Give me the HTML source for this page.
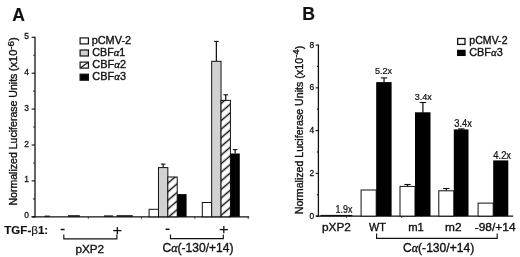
<!DOCTYPE html>
<html><head><meta charset="utf-8"><style>
html,body{margin:0;padding:0;background:#fff;}
body{width:520px;height:257px;overflow:hidden;}
svg{display:block;filter:blur(0.35px);}
</style></head><body>
<svg width="520" height="257" viewBox="0 0 520 257">
<rect width="520" height="257" fill="#fff"/>
<defs>
<pattern id="h" patternUnits="userSpaceOnUse" width="20" height="6.55" patternTransform="translate(0,3.47) rotate(-40.4)">
<rect x="-1" y="-1" width="22" height="9" fill="#fff"/>
<line x1="-1" y1="3.275" x2="21" y2="3.275" stroke="#111" stroke-width="1.45"/>
</pattern>
</defs>
<line x1="35.0" y1="36.699999999999996" x2="35.0" y2="217.4" stroke="#111" stroke-width="1.3"/>
<line x1="31.6" y1="216.8" x2="249.2" y2="216.8" stroke="#111" stroke-width="1.3"/>
<line x1="31.6" y1="216.80" x2="35.0" y2="216.80" stroke="#111" stroke-width="1.1"/>
<line x1="31.6" y1="180.90" x2="35.0" y2="180.90" stroke="#111" stroke-width="1.1"/>
<line x1="31.6" y1="145.00" x2="35.0" y2="145.00" stroke="#111" stroke-width="1.1"/>
<line x1="31.6" y1="109.10" x2="35.0" y2="109.10" stroke="#111" stroke-width="1.1"/>
<line x1="31.6" y1="73.20" x2="35.0" y2="73.20" stroke="#111" stroke-width="1.1"/>
<line x1="31.6" y1="37.30" x2="35.0" y2="37.30" stroke="#111" stroke-width="1.1"/>
<line x1="33.2" y1="198.85" x2="35.0" y2="198.85" stroke="#222" stroke-width="1.1"/>
<line x1="33.2" y1="162.95" x2="35.0" y2="162.95" stroke="#222" stroke-width="1.1"/>
<line x1="33.2" y1="127.05" x2="35.0" y2="127.05" stroke="#222" stroke-width="1.1"/>
<line x1="33.2" y1="91.15" x2="35.0" y2="91.15" stroke="#222" stroke-width="1.1"/>
<line x1="33.2" y1="55.25" x2="35.0" y2="55.25" stroke="#222" stroke-width="1.1"/>
<line x1="88.30" y1="216.8" x2="88.30" y2="218.8" stroke="#333" stroke-width="1"/>
<line x1="141.60" y1="216.8" x2="141.60" y2="218.8" stroke="#333" stroke-width="1"/>
<line x1="194.90" y1="216.8" x2="194.90" y2="218.8" stroke="#333" stroke-width="1"/>
<line x1="248.20" y1="216.8" x2="248.20" y2="218.8" stroke="#333" stroke-width="1"/>
<rect x="149.10" y="209.3" width="9.37" height="7.50" fill="#fff" stroke="#111" stroke-width="1"/>
<line x1="163.16" y1="164.1" x2="163.16" y2="167.6" stroke="#111" stroke-width="1.25"/>
<line x1="160.85" y1="164.1" x2="165.46" y2="164.1" stroke="#111" stroke-width="1.1"/>
<rect x="158.47" y="167.6" width="9.37" height="49.20" fill="#d2d2d2" stroke="#111" stroke-width="1"/>
<rect x="167.84" y="177.0" width="9.37" height="39.80" fill="url(#h)" stroke="#111" stroke-width="1"/>
<rect x="177.21" y="194.10" width="9.37" height="22.70" fill="#000"/>
<rect x="202.30" y="202.5" width="9.37" height="14.30" fill="#fff" stroke="#111" stroke-width="1"/>
<line x1="216.36" y1="41.4" x2="216.36" y2="61.3" stroke="#111" stroke-width="1.25"/>
<line x1="214.06" y1="41.4" x2="218.66" y2="41.4" stroke="#111" stroke-width="1.1"/>
<rect x="211.67" y="61.3" width="9.37" height="155.50" fill="#d2d2d2" stroke="#111" stroke-width="1"/>
<line x1="225.73" y1="94.8" x2="225.73" y2="100.4" stroke="#111" stroke-width="1.25"/>
<line x1="223.43" y1="94.8" x2="228.03" y2="94.8" stroke="#111" stroke-width="1.1"/>
<rect x="221.04" y="100.4" width="9.37" height="116.40" fill="url(#h)" stroke="#111" stroke-width="1"/>
<line x1="235.10" y1="149.6" x2="235.10" y2="153.6" stroke="#111" stroke-width="1.25"/>
<line x1="232.80" y1="149.6" x2="237.40" y2="149.6" stroke="#111" stroke-width="1.1"/>
<rect x="230.41" y="153.50" width="9.37" height="63.30" fill="#000"/>
<rect x="44.6" y="215.60" width="5.20" height="1.20" fill="#111"/>
<rect x="68.0" y="215.20" width="11.80" height="1.60" fill="#111"/>
<rect x="104.0" y="215.40" width="9.20" height="1.40" fill="#111"/>
<rect x="116.6" y="215.20" width="16.20" height="1.60" fill="#111"/>
<rect x="80.1" y="37.90" width="8.3" height="6.0" fill="#fff" stroke="#111" stroke-width="1.2"/>
<rect x="80.1" y="50.00" width="8.3" height="6.0" fill="#d2d2d2" stroke="#111" stroke-width="1.2"/>
<rect x="80.1" y="62.10" width="8.3" height="6.0" fill="#fff" stroke="#111" stroke-width="1.2"/>
<line x1="80.6" y1="67.70" x2="87.9" y2="62.50" stroke="#111" stroke-width="1.2"/>
<rect x="80.1" y="74.20" width="8.3" height="6.0" fill="#000" stroke="#111" stroke-width="1.2"/>
<line x1="60.6" y1="229.5" x2="64.6" y2="229.5" stroke="#111" stroke-width="1.5"/>
<line x1="113.20" y1="230.6" x2="121.40" y2="230.6" stroke="#111" stroke-width="1.3"/>
<line x1="117.3" y1="227.00" x2="117.3" y2="234.20" stroke="#111" stroke-width="1.3"/>
<line x1="165.6" y1="229.3" x2="169.6" y2="229.3" stroke="#111" stroke-width="1.5"/>
<line x1="219.70" y1="229.6" x2="227.90" y2="229.6" stroke="#111" stroke-width="1.3"/>
<line x1="223.8" y1="226.00" x2="223.8" y2="233.20" stroke="#111" stroke-width="1.3"/>
<path d="M63.8,234.4 V238.8 H116.9 V234.4" fill="none" stroke="#111" stroke-width="1.15"/>
<path d="M170.5,234.4 V238.6 H223.3 V234.4" fill="none" stroke="#111" stroke-width="1.15"/>
<line x1="318.4" y1="44.5" x2="318.4" y2="216.7" stroke="#111" stroke-width="1.3"/>
<line x1="316.0" y1="216.1" x2="513.2" y2="216.1" stroke="#111" stroke-width="1.3"/>
<line x1="315.6" y1="216.10" x2="318.4" y2="216.10" stroke="#111" stroke-width="1.1"/>
<line x1="316.79999999999995" y1="194.72" x2="318.4" y2="194.72" stroke="#222" stroke-width="1.1"/>
<line x1="315.6" y1="173.35" x2="318.4" y2="173.35" stroke="#111" stroke-width="1.1"/>
<line x1="316.79999999999995" y1="151.97" x2="318.4" y2="151.97" stroke="#222" stroke-width="1.1"/>
<line x1="315.6" y1="130.60" x2="318.4" y2="130.60" stroke="#111" stroke-width="1.1"/>
<line x1="316.79999999999995" y1="109.22" x2="318.4" y2="109.22" stroke="#222" stroke-width="1.1"/>
<line x1="315.6" y1="87.85" x2="318.4" y2="87.85" stroke="#111" stroke-width="1.1"/>
<line x1="316.79999999999995" y1="66.47" x2="318.4" y2="66.47" stroke="#222" stroke-width="1.1"/>
<line x1="315.6" y1="45.10" x2="318.4" y2="45.10" stroke="#111" stroke-width="1.1"/>
<line x1="346.4" y1="216.1" x2="346.4" y2="217.9" stroke="#333" stroke-width="1"/>
<line x1="401.7" y1="216.1" x2="401.7" y2="217.9" stroke="#333" stroke-width="1"/>
<line x1="384.05" y1="77.9" x2="384.05" y2="82.6" stroke="#111" stroke-width="1.25"/>
<line x1="380.85" y1="77.9" x2="387.25" y2="77.9" stroke="#111" stroke-width="1.1"/>
<rect x="361.1" y="190.0" width="15.10" height="26.10" fill="#fff" stroke="#111" stroke-width="1"/>
<rect x="376.2" y="82.10" width="15.40" height="134.00" fill="#000"/>
<line x1="407.50" y1="184.5" x2="407.50" y2="186.4" stroke="#111" stroke-width="1.25"/>
<line x1="404.30" y1="184.5" x2="410.70" y2="184.5" stroke="#111" stroke-width="1.1"/>
<line x1="422.90" y1="102.5" x2="422.90" y2="112.8" stroke="#111" stroke-width="1.25"/>
<line x1="419.70" y1="102.5" x2="426.10" y2="102.5" stroke="#111" stroke-width="1.1"/>
<rect x="400.0" y="186.4" width="15.00" height="29.70" fill="#fff" stroke="#111" stroke-width="1"/>
<rect x="415.0" y="112.30" width="15.50" height="103.80" fill="#000"/>
<line x1="446.30" y1="188.5" x2="446.30" y2="190.8" stroke="#111" stroke-width="1.25"/>
<line x1="443.10" y1="188.5" x2="449.50" y2="188.5" stroke="#111" stroke-width="1.1"/>
<line x1="461.30" y1="128.9" x2="461.30" y2="129.9" stroke="#111" stroke-width="1.25"/>
<line x1="458.10" y1="128.9" x2="464.50" y2="128.9" stroke="#111" stroke-width="1.1"/>
<rect x="438.8" y="190.8" width="15.00" height="25.30" fill="#fff" stroke="#111" stroke-width="1"/>
<rect x="453.8" y="129.40" width="14.70" height="86.70" fill="#000"/>
<rect x="478.1" y="203.1" width="15.10" height="13.00" fill="#fff" stroke="#111" stroke-width="1"/>
<rect x="493.2" y="160.40" width="15.10" height="55.70" fill="#000"/>
<rect x="320.4" y="214.9" width="32.0" height="1.4" fill="#111"/>
<rect x="457.7" y="38.5" width="7.3" height="5.9" fill="#fff" stroke="#111" stroke-width="1.3"/>
<rect x="457.7" y="50.4" width="7.3" height="5.0" fill="#000" stroke="#000" stroke-width="1.3"/>
<path d="M376.6,233.4 V238.3 H497.2 V233.4" fill="none" stroke="#111" stroke-width="1.15"/>
<text x="28.9" y="218.30" font-size="8.4" text-anchor="end" font-family="Liberation Sans" fill="#111" stroke="#111" stroke-width="0.28">0</text>
<text x="28.9" y="182.40" font-size="8.4" text-anchor="end" font-family="Liberation Sans" fill="#111" stroke="#111" stroke-width="0.28">1</text>
<text x="28.9" y="146.50" font-size="8.4" text-anchor="end" font-family="Liberation Sans" fill="#111" stroke="#111" stroke-width="0.28">2</text>
<text x="28.9" y="110.60" font-size="8.4" text-anchor="end" font-family="Liberation Sans" fill="#111" stroke="#111" stroke-width="0.28">3</text>
<text x="28.9" y="74.70" font-size="8.4" text-anchor="end" font-family="Liberation Sans" fill="#111" stroke="#111" stroke-width="0.28">4</text>
<text x="28.9" y="38.80" font-size="8.4" text-anchor="end" font-family="Liberation Sans" fill="#111" stroke="#111" stroke-width="0.28">5</text>
<text x="314.1" y="218.70" font-size="8.4" text-anchor="end" font-family="Liberation Sans" fill="#111" stroke="#111" stroke-width="0.28">0</text>
<text x="314.1" y="175.95" font-size="8.4" text-anchor="end" font-family="Liberation Sans" fill="#111" stroke="#111" stroke-width="0.28">2</text>
<text x="314.1" y="133.20" font-size="8.4" text-anchor="end" font-family="Liberation Sans" fill="#111" stroke="#111" stroke-width="0.28">4</text>
<text x="314.1" y="90.45" font-size="8.4" text-anchor="end" font-family="Liberation Sans" fill="#111" stroke="#111" stroke-width="0.28">6</text>
<text x="314.1" y="47.70" font-size="8.4" text-anchor="end" font-family="Liberation Sans" fill="#111" stroke="#111" stroke-width="0.28">8</text>
<text transform="translate(12.37,20.60) scale(0.17576,0.18261)" font-size="100" font-family="Liberation Sans" font-weight="bold" fill="#111" stroke="#111" stroke-width="0.84">A</text>
<text transform="translate(302.16,20.10) scale(0.17705,0.17826)" font-size="100" font-family="Liberation Sans" font-weight="bold" fill="#111" stroke="#111" stroke-width="0.84">B</text>
<text transform="translate(91.63,43.60) scale(0.10946,0.11594)" font-size="100" font-family="Liberation Sans"  fill="#111" stroke="#111" stroke-width="3.19">pCMV-2</text>
<text transform="translate(92.36,55.80) scale(0.10705,0.10870)" font-size="100" font-family="Liberation Sans"  fill="#111" stroke="#111" stroke-width="3.34">CBF<tspan font-family="Liberation Serif" font-style="italic">α</tspan>1</text>
<text transform="translate(92.35,68.00) scale(0.11007,0.10870)" font-size="100" font-family="Liberation Sans"  fill="#111" stroke="#111" stroke-width="3.29">CBF<tspan font-family="Liberation Serif" font-style="italic">α</tspan>2</text>
<text transform="translate(92.35,80.20) scale(0.10936,0.10870)" font-size="100" font-family="Liberation Sans"  fill="#111" stroke="#111" stroke-width="3.30">CBF<tspan font-family="Liberation Serif" font-style="italic">α</tspan>3</text>
<text transform="translate(469.36,43.80) scale(0.10573,0.11014)" font-size="100" font-family="Liberation Sans"  fill="#111" stroke="#111" stroke-width="3.34">pCMV-2</text>
<text transform="translate(469.15,55.50) scale(0.10903,0.11159)" font-size="100" font-family="Liberation Sans"  fill="#111" stroke="#111" stroke-width="3.26">CBF<tspan font-family="Liberation Serif" font-style="italic">α</tspan>3</text>
<text transform="translate(4.28,233.80) scale(0.11572,0.11014)" font-size="100" font-family="Liberation Sans" font-weight="bold" fill="#111" stroke="#111" stroke-width="1.33">TGF-<tspan font-family="Liberation Sans" font-weight="normal">β</tspan>1:</text>
<text transform="translate(75.38,252.50) scale(0.11760,0.11739)" font-size="100" font-family="Liberation Sans"  fill="#111" stroke="#111" stroke-width="3.06">pXP2</text>
<text transform="translate(162.50,252.30) scale(0.12076,0.13043)" font-size="100" font-family="Liberation Sans"  fill="#111" stroke="#111" stroke-width="2.87">C<tspan font-family="Liberation Serif" font-style="italic">α</tspan>(-130/+14)</text>
<text transform="translate(321.97,230.50) scale(0.11845,0.11159)" font-size="100" font-family="Liberation Sans"  fill="#111" stroke="#111" stroke-width="3.13">pXP2</text>
<text transform="translate(368.89,230.50) scale(0.10855,0.11159)" font-size="100" font-family="Liberation Sans"  fill="#111" stroke="#111" stroke-width="3.27">WT</text>
<text transform="translate(408.21,230.50) scale(0.11260,0.11449)" font-size="100" font-family="Liberation Sans"  fill="#111" stroke="#111" stroke-width="3.17">m1</text>
<text transform="translate(445.07,230.50) scale(0.11890,0.11449)" font-size="100" font-family="Liberation Sans"  fill="#111" stroke="#111" stroke-width="3.08">m2</text>
<text transform="translate(474.72,230.50) scale(0.11940,0.11449)" font-size="100" font-family="Liberation Sans"  fill="#111" stroke="#111" stroke-width="3.08">-98/+14</text>
<text transform="translate(402.99,251.90) scale(0.12111,0.12464)" font-size="100" font-family="Liberation Sans"  fill="#111" stroke="#111" stroke-width="2.93">C<tspan font-family="Liberation Serif" font-style="italic">α</tspan>(-130/+14)</text>
<text transform="translate(335.59,213.30) scale(0.08889,0.10725)" font-size="100" font-family="Liberation Sans"  fill="#111" stroke="#111" stroke-width="2.24">1.9x</text>
<text transform="translate(374.94,74.30) scale(0.09076,0.09710)" font-size="100" font-family="Liberation Sans"  fill="#111" stroke="#111" stroke-width="2.34">5.2x</text>
<text transform="translate(414.84,100.40) scale(0.09022,0.09710)" font-size="100" font-family="Liberation Sans"  fill="#111" stroke="#111" stroke-width="2.35">3.4x</text>
<text transform="translate(454.33,126.80) scale(0.09293,0.10290)" font-size="100" font-family="Liberation Sans"  fill="#111" stroke="#111" stroke-width="2.25">3.4x</text>
<text transform="translate(493.31,158.80) scale(0.09409,0.10435)" font-size="100" font-family="Liberation Sans"  fill="#111" stroke="#111" stroke-width="2.22">4.2x</text>
<text transform="translate(16.90,205.54) rotate(-90) scale(0.10557,0.10145)" font-size="100" font-family="Liberation Sans"  fill="#111" stroke="#111" stroke-width="3.48">Normalized Luciferase Units</text>
<text transform="translate(16.90,71.27) rotate(-90) scale(0.11122,0.10145)" font-size="100" font-family="Liberation Sans"  fill="#111" stroke="#111" stroke-width="3.39">(x10<tspan dy="-32" font-size="88">-6</tspan><tspan dy="32">)</tspan></text>
<text transform="translate(302.50,214.25) rotate(-90) scale(0.10613,0.10580)" font-size="100" font-family="Liberation Sans"  fill="#111" stroke="#111" stroke-width="3.40">Normalized Luciferase Units</text>
<text transform="translate(302.50,78.75) rotate(-90) scale(0.10816,0.10580)" font-size="100" font-family="Liberation Sans"  fill="#111" stroke="#111" stroke-width="3.37">(x10<tspan dy="-32" font-size="88">-4</tspan><tspan dy="32">)</tspan></text>
</svg>
</body></html>
